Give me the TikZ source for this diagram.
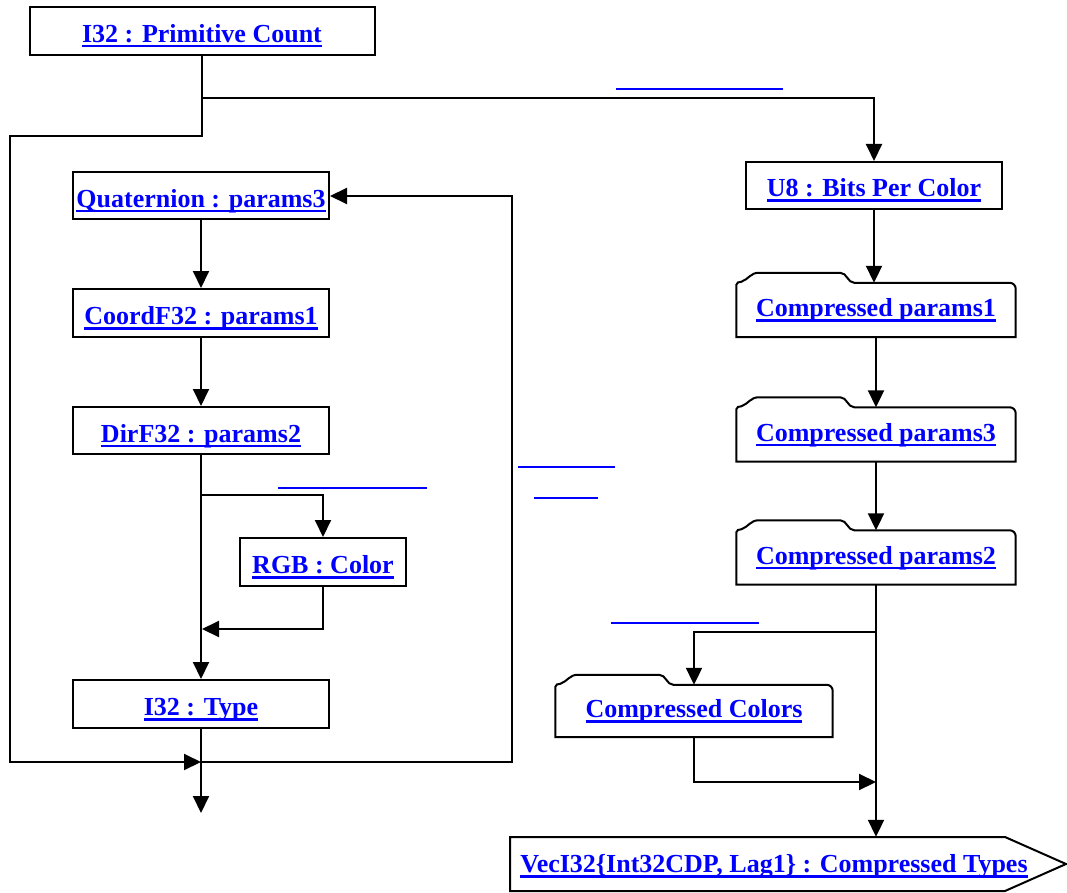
\documentclass[tikz,border=0pt]{standalone}
\usepackage{fontspec}
\setmainfont{Liberation Serif}
\usetikzlibrary{arrows.meta}
\definecolor{linkblue}{RGB}{0,0,255}
\newsavebox{\lnkbox}
\newcommand{\lnk}[1]{\sbox{\lnkbox}{#1}\rlap{\rule[-5pt]{\wd\lnkbox}{2.5pt}}\usebox{\lnkbox}}
% folder outline with a tab on top of a node
\newcommand{\tabfolder}[1]{%
  \draw[edge] (#1.south west) -- ([yshift=-2pt]#1.north west)
    to[out=90,in=180] ([xshift=5pt,yshift=1pt]#1.north west)
    to[out=20,in=180] ([xshift=22pt,yshift=10pt]#1.north west)
    -- ([xshift=104pt,yshift=10pt]#1.north west)
    to[out=0,in=180] ([xshift=118pt]#1.north west)
    -- ([xshift=-6pt]#1.north east)
    to[out=0,in=90] ([yshift=-6pt]#1.north east)
    -- (#1.south east) -- cycle;}
\begin{document}
\begin{tikzpicture}[x=1pt, y=1pt,
  every node/.style={font=\bfseries\fontsize{26}{30}\selectfont, text=linkblue, inner sep=0pt},
  box/.style={draw=black, line width=2pt, minimum height=47pt, text height=23pt, text depth=0pt},
  folder/.style={minimum width=279pt, minimum height=54pt, text height=13pt, text depth=0pt},
  edge/.style={line width=2pt},
  arr/.style={line width=2pt, -{Triangle[length=17pt,width=16pt]}},
  blank/.style={linkblue, line width=2.5pt}]
	\useasboundingbox (0,0) rectangle (1067,-893);
	% left column
	\node[box, minimum width=345pt, minimum height=48pt] (pcount) at (202,-31) {\lnk{I32 : Primitive Count}};
	\node[box, minimum width=256pt] (quat) at (201,-196) {\lnk{Quaternion : params3}};
	\node[box, minimum width=256pt, minimum height=48pt] (coord) at (201,-313) {\lnk{CoordF32 : params1}};
	\node[box, minimum width=256pt] (dir) at (201,-430.5) {\lnk{DirF32 : params2}};
	\node[box, minimum width=166pt, minimum height=48pt] (rgb) at (323,-562) {\lnk{RGB : Color}};
	\node[box, minimum width=256pt, minimum height=48pt] (itype) at (201,-704) {\lnk{I32 : Type}};
	% right column
	\node[box, minimum width=256pt] (bits) at (874,-185.5) {\lnk{U8 : Bits Per Color}};
	\node[folder] (cp1) at (876,-310) {\lnk{Compressed params1}};
	\node[folder] (cp3) at (876,-434.5) {\lnk{Compressed params3}};
	\node[folder] (cp2) at (876,-557.5) {\lnk{Compressed params2}};
	\node[folder, minimum width=277pt, minimum height=52pt] (ccol) at (694,-711) {\lnk{Compressed Colors}};
	\node[minimum height=54pt, text height=17pt, text depth=0pt] (vtypes) at (774,-864) {\lnk{VecI32\{Int32CDP, Lag1\} : Compressed Types}};
	\tabfolder{cp1}
	\tabfolder{cp3}
	\tabfolder{cp2}
	\tabfolder{ccol}
	\draw[edge] (510,-837) -- (1005,-837) -- (1066,-864) -- (1005,-891) -- (510,-891) -- cycle;

	\coordinate (join) at (201,-762);
	\coordinate (out) at (201,-813);
	\coordinate (rgbin) at (202,-629);
	\coordinate (colin) at (876,-782);

	\draw[arr] (pcount.south) -- ++(0,-42) -| (bits.north);
	\draw[arr] (pcount.south) -- ++(0,-80) -| (10,-762) -- (join);
	\draw[arr] (quat.south) -- (coord.north);
	\draw[arr] (coord.south) -- (dir.north);
	\draw[arr] (dir.south) -- (itype.north);
	\draw[arr] ([yshift=-40pt]dir.south) -| (rgb.north);
	\draw[arr] (rgb.south) |- (rgbin);
	\draw[arr] (itype.south) -- (out);
	\draw[arr] (join) -| (512,-196) -- (quat.east);

	\draw[arr] (bits.south) -- (bits.south |- cp1.north);
	\draw[arr] (cp1.south) -- (cp3.north);
	\draw[arr] (cp3.south) -- (cp2.north);
	\draw[arr] (cp2.south) -- (cp2.south |- vtypes.north);
	\draw[arr] ([yshift=-47pt]cp2.south) -| (ccol.north);
	\draw[arr] (ccol.south) |- (colin);

	% empty links
	\draw[blank] (616,-89) -- (783,-89);
	\draw[blank] (278,-488) -- (427,-488);
	\draw[blank] (518,-467) -- (615,-467);
	\draw[blank] (534,-498) -- (598,-498);
	\draw[blank] (611,-623) -- (759,-623);
\end{tikzpicture}
\end{document}
